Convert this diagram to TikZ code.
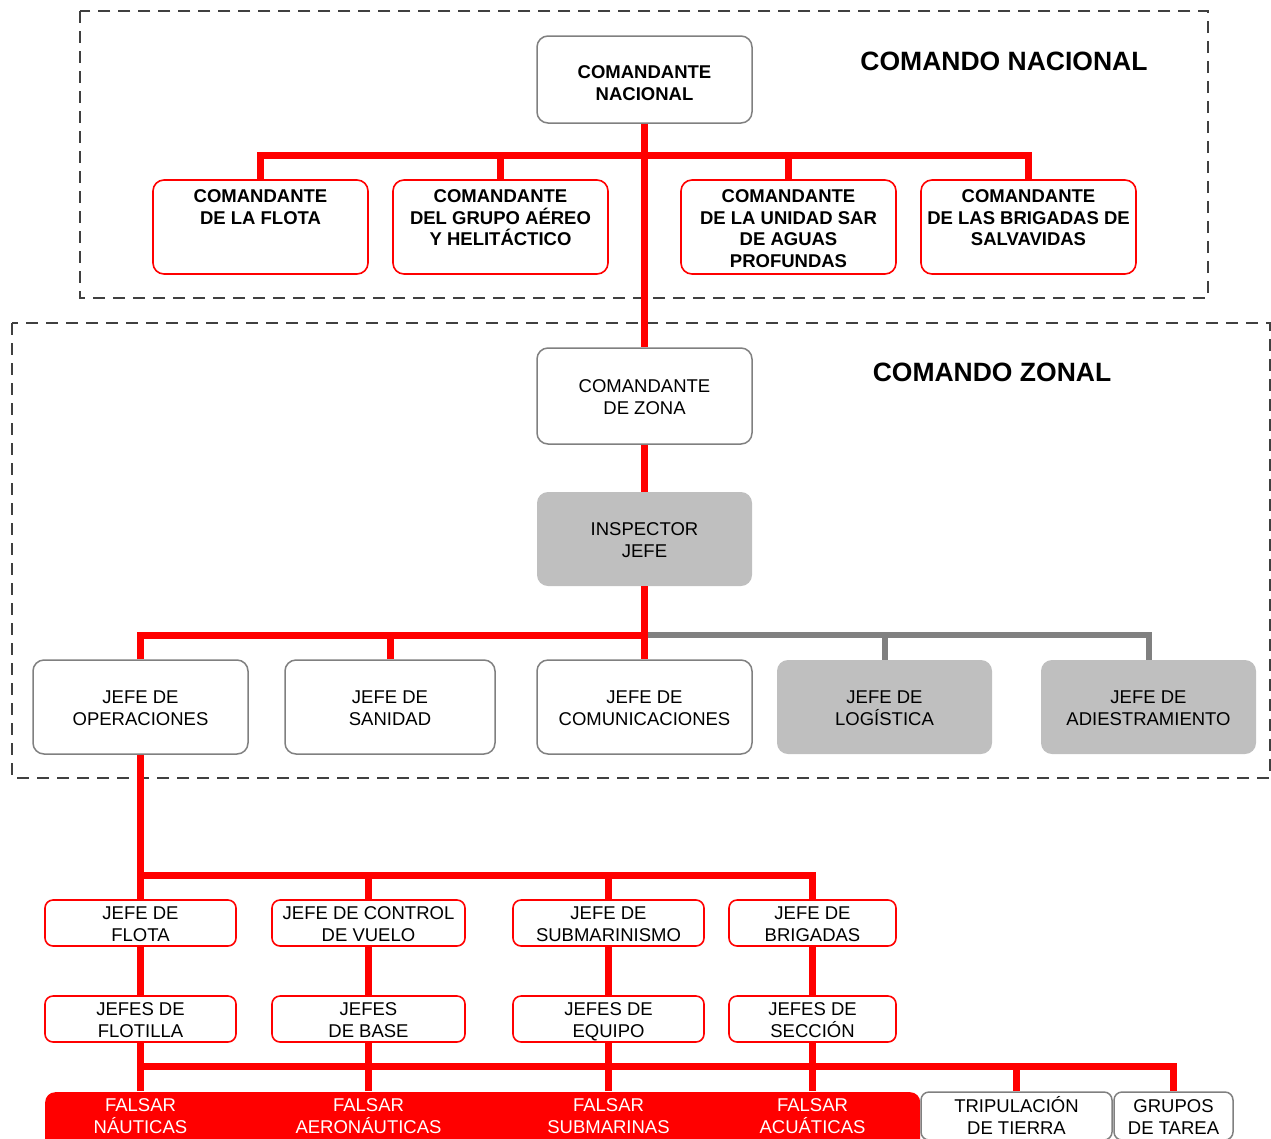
\documentclass[tikz,border=0pt]{standalone}
\usepackage{fontspec}
\setmainfont{Liberation Sans}
\definecolor{rd}{HTML}{FF0000}
\definecolor{gb}{HTML}{808080}
\definecolor{gf}{HTML}{BFBFBF}
\definecolor{dsh}{HTML}{404040}
\newcommand\fs{\fontsize{18.5pt}{21.5pt}\selectfont}
\newcommand\toptxt[1]{\begin{minipage}[c][74pt][t]{212pt}\centering\bfseries #1\end{minipage}}
\newcommand\sh{\rule{0pt}{40pt}}
\newcommand\sd{\rule[-3.3pt]{0pt}{3.3pt}}
\newcommand\shh{\rule{0pt}{44pt}}
\newcommand\sdd{\rule[-2.3pt]{0pt}{2.3pt}}
\begin{document}
\begin{tikzpicture}[x=1pt,y=-1pt,
 every node/.style={font=\fs, align=center, inner sep=0pt},
 tx/.style={execute at begin node=\sh, execute at end node=\sd},
 grayb/.style={tx, draw=gb, line width=1.5pt, fill=white, rounded corners=11pt},
 grayf/.style={tx, fill=gf, rounded corners=11pt},
 redb/.style={draw=rd, line width=1.6pt, fill=white, rounded corners=11pt, minimum width=215, minimum height=94},
 reds/.style={tx, draw=rd, line width=1.6pt, fill=white, rounded corners=8pt, minimum height=46},
 fal/.style={tx, text=white, minimum width=180, minimum height=48},
 redl/.style={draw=rd, line width=7pt},
 grayl/.style={draw=gb, line width=6pt},
 dashbox/.style={draw=dsh, line width=1.6pt, dash pattern=on 12pt off 8pt},
 title/.style={font=\fontsize{26.5pt}{30pt}\selectfont\bfseries}
]
\useasboundingbox (0,0) rectangle (1271,1138);
\clip (0,0) rectangle (1271,1138);

% dashed regions
\draw[dashbox] (80,11) rectangle (1208,298);
\draw[dashbox] (12,323) rectangle (1270,778);

% bus coordinates
\coordinate (b1) at (644.5,155);
\coordinate (b3) at (644.5,635);
\coordinate (b4) at (140.5,875);
\coordinate (b6) at (140.5,1066);

% national level
\node[draw=gb, line width=1.5pt, fill=white, rounded corners=11pt, execute at begin node=\shh, execute at end node=\sdd,
      minimum width=215, minimum height=87, font=\fs\bfseries] (cn) at (644.5,79.5) {COMANDANTE\\NACIONAL};
\node[redb] (f1) at (260.5,227) {\toptxt{COMANDANTE\\DE LA FLOTA}};
\node[redb] (f2) at (500.5,227) {\toptxt{COMANDANTE\\DEL GRUPO AÉREO\\Y HELITÁCTICO}};
\node[redb] (f3) at (788.5,227) {\toptxt{COMANDANTE\\DE LA UNIDAD SAR\\DE AGUAS\\PROFUNDAS}};
\node[redb] (f4) at (1028.5,227) {\toptxt{COMANDANTE\\DE LAS BRIGADAS DE\\SALVAVIDAS}};
\node[title] (tn) at (1004,61) {COMANDO NACIONAL};

% zonal level
\node[grayb, minimum width=215, minimum height=96] (cz) at (644.5,396) {COMANDANTE\\DE ZONA};
\node[grayf, minimum width=215, minimum height=94] (ij) at (644.5,539) {INSPECTOR\\JEFE};
\node[title] (tz) at (992,372) {COMANDO ZONAL};
\node[grayb, minimum width=215, minimum height=94] (op) at (140.5,707) {JEFE DE\\OPERACIONES};
\node[grayb, minimum width=210, minimum height=94] (san) at (390,707) {JEFE DE\\SANIDAD};
\node[grayb, minimum width=215, minimum height=94] (com) at (644.5,707) {JEFE DE\\COMUNICACIONES};
\node[grayf, minimum width=215, minimum height=94] (log) at (884.5,707) {JEFE DE\\LOGÍSTICA};
\node[grayf, minimum width=215, minimum height=94] (adi) at (1148.5,707) {JEFE DE\\ADIESTRAMIENTO};

% operations branch
\node[reds, minimum width=191] (r4a) at (140.5,923) {JEFE DE\\FLOTA};
\node[reds, minimum width=193] (r4b) at (368.5,923) {JEFE DE CONTROL\\DE VUELO};
\node[reds, minimum width=191] (r4c) at (608.5,923) {JEFE DE\\SUBMARINISMO};
\node[reds, minimum width=167] (r4d) at (812.5,923) {JEFE DE\\BRIGADAS};
\node[reds, minimum width=191] (r5a) at (140.5,1019) {JEFES DE\\FLOTILLA};
\node[reds, minimum width=193] (r5b) at (368.5,1019) {JEFES\\DE BASE};
\node[reds, minimum width=191] (r5c) at (608.5,1019) {JEFES DE\\EQUIPO};
\node[reds, minimum width=167] (r5d) at (812.5,1019) {JEFES DE\\SECCIÓN};

% bottom row
\node[fill=rd, rounded corners=10pt, minimum width=875, minimum height=68, anchor=north west] (falbg) at (45,1092) {};
\node[fal] (fn1) at (140.5,1115) {FALSAR\\NÁUTICAS};
\node[fal] (fn2) at (368.5,1115) {FALSAR\\AERONÁUTICAS};
\node[fal] (fn3) at (608.5,1115) {FALSAR\\SUBMARINAS};
\node[fal] (fn4) at (812.5,1115) {FALSAR\\ACUÁTICAS};
\node[grayb, rounded corners=8pt, minimum width=191, minimum height=48] (trip) at (1016.5,1116) {TRIPULACIÓN\\DE TIERRA};
\node[grayb, rounded corners=8pt, minimum width=119, minimum height=48] (grp) at (1173.5,1116) {GRUPOS\\DE TAREA};

% connectors
\draw[redl] (cn.south) -- (cz.north);
\draw[redl] (f1.north) -- (f1.north |- b1) -- (f4.north |- b1) -- (f4.north);
\draw[redl] (f2.north) -- (f2.north |- b1);
\draw[redl] (f3.north) -- (f3.north |- b1);
\draw[redl] (cz.south) -- (ij.north);
\draw[grayl] (b3) -| (adi.north);
\draw[grayl] (log.north) -- (log.north |- b3);
\draw[redl] (op.north) |- (b3);
\draw[redl] (san.north) -- (san.north |- b3);
\draw[redl] (ij.south) -- (com.north);
\draw[redl] (op.south) -- (r4a.north);
\draw[redl] (b4) -- (r4d.north |- b4) -- (r4d.north);
\draw[redl] (r4b.north) -- (r4b.north |- b4);
\draw[redl] (r4c.north) -- (r4c.north |- b4);
\draw[redl] (r4a.south) -- (r5a.north);
\draw[redl] (r4b.south) -- (r5b.north);
\draw[redl] (r4c.south) -- (r5c.north);
\draw[redl] (r4d.south) -- (r5d.north);
\draw[redl] (r5a.south) -- (fn1.north);
\draw[redl] (r5b.south) -- (fn2.north);
\draw[redl] (r5c.south) -- (fn3.north);
\draw[redl] (r5d.south) -- (fn4.north);
\draw[redl] (b6) -- (grp.north |- b6) -- (grp.north);
\draw[redl] (trip.north |- b6) -- (trip.north);
\end{tikzpicture}
\end{document}
